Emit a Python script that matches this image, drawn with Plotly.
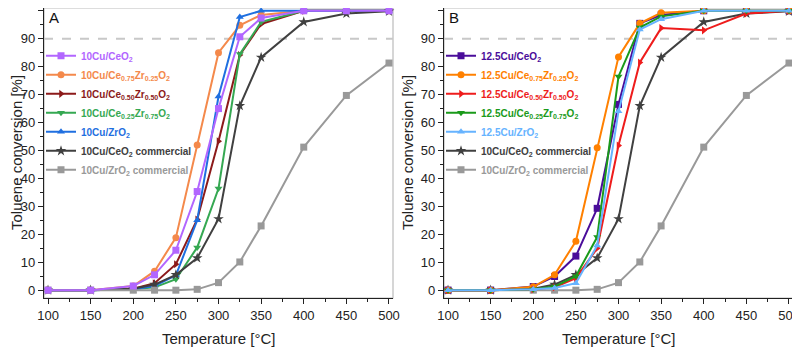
import plotly.graph_objects as go

temperature = [100, 150, 200, 225, 250, 275, 300, 325, 350, 400, 450, 500]

# panel A (10Cu catalysts)
a_ceo2 = [0, 0, 1.5, 5.5, 14.3, 35.3, 65.0, 90.7, 97.4, 100, 100, 100]
a_ce75 = [0, 0, 1.5, 6.8, 18.8, 52.0, 85.0, 94.8, 98.5, 100, 100, 100]
a_ce50 = [0, 0, 0.5, 2.5, 9.3, 25.3, 53.3, 84.2, 95.3, 100, 100, 100]
a_ce25 = [0, 0, 0.3, 1.0, 3.9, 15.3, 36.4, 84.5, 96.0, 100, 100, 100]
a_zro2 = [0, 0, 0.3, 1.5, 5.3, 25.0, 69.3, 97.8, 100, 100, 100, 100]

# panel B (12.5Cu catalysts)
b_ceo2 = [0, 0, 1.3, 4.9, 12.2, 29.3, 66.5, 95.5, 98.5, 100, 100, 100]
b_ce75 = [0, 0, 1.2, 5.5, 17.5, 51.0, 83.5, 95.5, 99.3, 100, 100, 100]
b_ce50 = [0, 0, 0.3, 1.0, 4.3, 15.0, 51.8, 81.5, 93.8, 93.0, 99.0, 100]
b_ce25 = [0, 0, 0.3, 1.3, 5.0, 19.0, 76.5, 94.0, 98.0, 100, 100, 100]
b_zro2 = [0, 0, 0.3, 0.8, 2.5, 16.0, 64.0, 93.3, 97.0, 100, 100, 100]

# commercial references (same in both panels)
com_ceo2 = [0, 0, 0.5, 2.0, 5.5, 11.5, 25.5, 66.0, 83.3, 96.0, 99.0, 99.8]
com_zro2 = [0, 0, 0, 0, 0, 0.3, 2.7, 10.1, 23.0, 51.2, 69.7, 81.3]

FONT = "Liberation Sans, Arial, sans-serif"

# page body has an 8px margin, so the figure is 8px smaller than the window
W, H = 792, 340


def label(txt, color):
    return f'<b><span style="color:{color}">{txt}</span></b>'


series_a = [
    # (values, name, color, symbol, legend rank) -- listed in drawing order
    (a_ce75, "10Cu/Ce<sub>0.75</sub>Zr<sub>0.25</sub>O<sub>2</sub>", "#f4894b", "circle", 2),
    (a_ce50, "10Cu/Ce<sub>0.50</sub>Zr<sub>0.50</sub>O<sub>2</sub>", "#8c1a1a", "triangle-right", 3),
    (a_ce25, "10Cu/Ce<sub>0.25</sub>Zr<sub>0.75</sub>O<sub>2</sub>", "#35a852", "triangle-down", 4),
    (a_zro2, "10Cu/ZrO<sub>2</sub>", "#1f6fe0", "triangle-up", 5),
    (com_ceo2, "10Cu/CeO<sub>2</sub> commercial", "#404040", "star", 6),
    (com_zro2, "10Cu/ZrO<sub>2</sub> commercial", "#999999", "square", 7),
    (a_ceo2, "10Cu/CeO<sub>2</sub>", "#b266ff", "square", 1),
]
series_b = [
    (com_ceo2, "10Cu/CeO<sub>2</sub> commercial", "#404040", "star", 6),
    (com_zro2, "10Cu/ZrO<sub>2</sub> commercial", "#999999", "square", 7),
    (b_ceo2, "12.5Cu/CeO<sub>2</sub>", "#4a0d9a", "square", 1),
    (b_ce75, "12.5Cu/Ce<sub>0.75</sub>Zr<sub>0.25</sub>O<sub>2</sub>", "#ff8000", "circle", 2),
    (b_ce50, "12.5Cu/Ce<sub>0.50</sub>Zr<sub>0.50</sub>O<sub>2</sub>", "#ee1c1c", "triangle-right", 3),
    (b_ce25, "12.5Cu/Ce<sub>0.25</sub>Zr<sub>0.75</sub>O<sub>2</sub>", "#1a9a1a", "triangle-down", 4),
    (b_zro2, "12.5Cu/ZrO<sub>2</sub>", "#66b3ff", "triangle-up", 5),
]

fig = go.Figure()

for panel, series in ((1, series_a), (2, series_b)):
    for vals, name, color, symbol, rank in series:
        fig.add_trace(go.Scatter(
            x=temperature, y=vals, mode="lines+markers",
            name=label(name, color),
            line=dict(color=color, width=2),
            marker=dict(symbol=symbol, size=7 if symbol != "star" else 8, color=color),
            cliponaxis=False,
            xaxis="x" if panel == 1 else "x2",
            yaxis="y" if panel == 1 else "y2",
            legend="legend" if panel == 1 else "legend2",
            legendrank=rank,
        ))

axis_common = dict(
    showline=True, linecolor="#222", linewidth=1.2, mirror=False,
    ticks="outside", ticklen=5, tickwidth=1.2, tickcolor="#222",
    showgrid=False, zeroline=False, automargin=False,
    tickfont=dict(family=FONT, size=13, color="#222"),
)
xa = dict(axis_common, range=[95.3, 504.7], dtick=50, tick0=100,
          minor=dict(dtick=25, ticks="outside", ticklen=3, tickcolor="#222"))
ya = dict(axis_common, range=[-2.8, 101.0], dtick=10, tick0=0,
          minor=dict(dtick=5, ticks="outside", ticklen=3, tickcolor="#222"))

legend_common = dict(
    bgcolor="rgba(0,0,0,0)", borderwidth=0, tracegroupgap=0,
    font=dict(family=FONT, size=10), yanchor="top", xanchor="left",
    itemclick=False,
)

fig.update_layout(
    width=W, height=H,
    margin=dict(l=0, r=0, t=0, b=50, autoexpand=False),
    plot_bgcolor="white", paper_bgcolor="white",
    showlegend=True,
    xaxis=dict(xa, domain=[36 / W, 385 / W], anchor="y"),
    yaxis=dict(ya, domain=[0, 1], anchor="x"),
    xaxis2=dict(xa, domain=[436 / W, 785 / W], anchor="y2"),
    yaxis2=dict(ya, domain=[0, 1], anchor="x2"),
    legend=dict(legend_common, x=33 / W, y=0.885),
    legend2=dict(legend_common, x=433 / W, y=0.885),
)

for xr, yr, letter, ytitle_x in (("x", "y", "A", 8 / W), ("x2", "y2", "B", 399 / W)):
    # light frame on top/right
    fig.add_shape(type="rect", xref=f"{xr} domain", yref=f"{yr} domain",
                  x0=0, x1=1, y0=0, y1=1, line=dict(color="#bbbbbb", width=1.2), layer="below")
    # 90 % reference line
    fig.add_shape(type="line", xref=f"{xr} domain", yref=yr, x0=0, x1=1, y0=90, y1=90,
                  line=dict(color="#c8c8c8", width=2, dash="dash"), layer="below")
    fig.add_annotation(text=letter, xref=f"{xr} domain", yref=f"{yr} domain",
                       x=0.01, y=1.005, xanchor="left", yanchor="top", showarrow=False,
                       font=dict(family=FONT, size=15, color="#111"))
    # axis titles
    fig.add_annotation(text="Temperature [°C]", xref=f"{xr} domain", yref="paper",
                       x=0.5, y=-40 / 290, xanchor="center", yanchor="middle", showarrow=False,
                       font=dict(family=FONT, size=15, color="#222"))
    fig.add_annotation(text="Toluene conversion [%]", xref="paper", yref=f"{yr} domain",
                       x=ytitle_x, y=0.5, xanchor="center", yanchor="middle", textangle=-90,
                       showarrow=False, font=dict(family=FONT, size=15, color="#222"))

fig.write_html("out.html")
